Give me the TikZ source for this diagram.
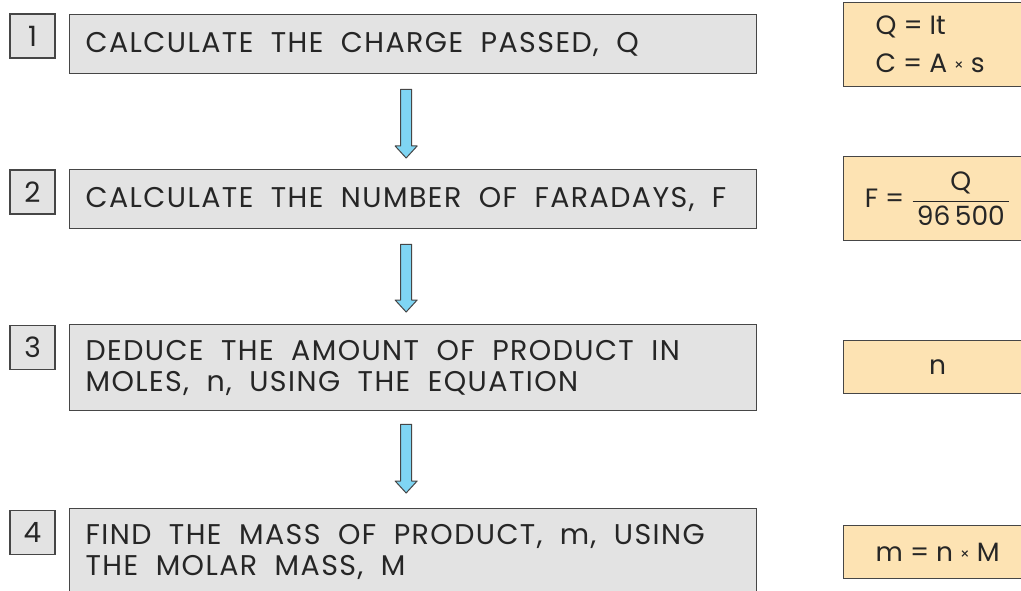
\documentclass[tikz,border=0pt]{standalone}
\usepackage{fontspec}
\usepackage{amsmath}
\setmainfont{Poppins}
\newfontfamily\stepfam[LetterSpace=5]{Poppins}
\usetikzlibrary{calc}
\definecolor{boxgrey}{HTML}{E3E3E3}
\definecolor{peach}{HTML}{FDE3B3}
\definecolor{edge}{HTML}{464646}
\definecolor{ink}{HTML}{262626}
\definecolor{arrowblue}{HTML}{7FD5F3}
\newcommand\stepfont{\stepfam\fontsize{28.5}{31}\selectfont}
\newcommand\numfont{\fontsize{28}{31}\selectfont}
\newcommand\formfont{\fontsize{26.5}{38}\selectfont}
\newcommand\smalltimes{\raisebox{2pt}{\fontsize{15}{15}\selectfont ×}}
\begin{document}
\begin{tikzpicture}[x=1pt,y=-1pt,
  stepbox/.style={draw=edge, line width=1.3pt, fill=boxgrey, anchor=north west,
    minimum width=687pt, text width=655pt, align=left, inner xsep=16pt,
    inner ysep=0pt, text=ink, font=\stepfont,
    execute at begin node={\spaceskip=17.5pt plus 1pt\relax}},
  numbox/.style={draw=edge, line width=1.3pt, fill=boxgrey, minimum width=45pt,
    minimum height=44pt, inner sep=0pt, text=ink, font=\numfont},
  formbox/.style={draw=edge, line width=1.3pt, fill=peach, anchor=north west,
    minimum width=188pt, inner sep=0pt, text=ink, font=\formfont, align=center,
    execute at begin node={\spaceskip=7pt plus 1pt\relax}},
  fatarrow/.style={draw=edge, fill=arrowblue, line width=1pt, line join=round,
    to path={let \p1=(\tikztostart), \p2=(\tikztotarget) in
      (\x1-5.5pt,\y1) -- (\x1+5.5pt,\y1) -- (\x1+5.5pt,\y2+12pt) -- (\x1+11pt,\y2+12pt)
      -- (\x2,\y2) -- (\x1-11pt,\y2+12pt) -- (\x1-5.5pt,\y2+12pt) -- cycle}}
]
\useasboundingbox (0,0) rectangle (1021,591);
\fill[white] (0,0) rectangle (1021,591);

% step numbers
\node[numbox] (n1) at (32.5,36) {1};
\node[numbox] (n2) at (32.5,192) {2};
\node[numbox] (n3) at (32.5,347.5) {3};
\node[numbox] (n4) at (32.5,532.5) {4};

% step boxes
\node[stepbox, minimum height=59pt] (b1) at (69,14) {CALCULATE THE CHARGE PASSED, Q};
\node[stepbox, minimum height=59pt] (b2) at (69,169) {CALCULATE THE NUMBER OF FARADAYS, F};
\node[stepbox, minimum height=86pt] (b3) at (69,324) {DEDUCE THE AMOUNT OF PRODUCT IN\\MOLES, n, USING THE EQUATION};
\node[stepbox, minimum height=86pt] (b4) at (69,508) {FIND THE MASS OF PRODUCT, m, USING\\THE MOLAR MASS, M};

% formula boxes
\node[formbox, minimum height=84pt, text width=124pt, align=left] (f1) at (843,2) {Q = It\\C = A \smalltimes{} s};
\node[formbox, minimum height=84pt] (f2) at (843,156) {F = $\genfrac{}{}{1.3pt}{0}{\mbox{\,Q\,}}{\mbox{\,96\,500\,}}$};
\node[formbox, minimum height=53pt] (f3) at (843,340) {n};
\node[formbox, minimum height=53pt] (f4) at (843,525) {m = n \smalltimes{} M};

% arrows
\coordinate (a1s) at ($(b1.south)+(-7,15)$);
\coordinate (a1e) at ($(b2.north)+(-7,-11)$);
\coordinate (a2s) at ($(b2.south)+(-7,15)$);
\coordinate (a2e) at ($(b3.north)+(-7,-12)$);
\coordinate (a3s) at ($(b3.south)+(-7,13)$);
\coordinate (a3e) at ($(b4.north)+(-7,-15)$);
\draw[fatarrow] (a1s) to (a1e);
\draw[fatarrow] (a2s) to (a2e);
\draw[fatarrow] (a3s) to (a3e);
\end{tikzpicture}
\end{document}
